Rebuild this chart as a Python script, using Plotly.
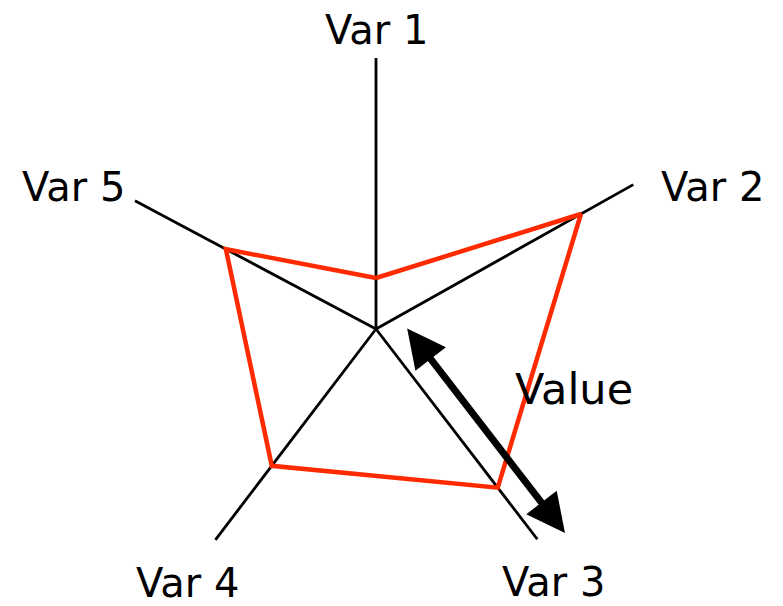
import numpy as np
import plotly.graph_objects as go

categories = ["Var 1", "Var 2", "Var 3", "Var 4", "Var 5"]
axis_angles = [90.0, 29.3, -52.5, -127.3, 152.0]   # degrees, counter-clockwise from east
axis_lengths = [271, 295, 265, 265, 273]
values = [51, 235, 200, 172, 170]

ang = np.deg2rad(axis_angles)

# axis spokes
sx, sy = [], []
for a, L in zip(ang, axis_lengths):
    sx += [0, L * np.cos(a), None]
    sy += [0, L * np.sin(a), None]

# value polygon
px = [v * np.cos(a) for v, a in zip(values, ang)]
py = [v * np.sin(a) for v, a in zip(values, ang)]
px.append(px[0]); py.append(py[0])

fig = go.Figure()
fig.add_trace(go.Scatter(x=sx, y=sy, mode="lines",
                         line=dict(color="black", width=2.8),
                         hoverinfo="skip", showlegend=False))
fig.add_trace(go.Scatter(x=px, y=py, mode="lines",
                         line=dict(color="#ff2a00", width=4.5),
                         text=categories + [categories[0]],
                         showlegend=False))

label_pos = [(0, 299), (336, 142), (177, -253), (-189, -254), (-303, 142)]
font = dict(family="DejaVu Sans, Verdana, sans-serif", size=40, color="black")
for name, (lx, ly) in zip(categories, label_pos):
    fig.add_annotation(x=lx, y=ly, text=name, showarrow=False, font=font,
                       xanchor="center", yanchor="middle")

# double-headed "Value" arrow parallel to the Var 3 spoke
fig.add_annotation(x=189, y=-204, ax=30, ay=2, axref="x", ayref="y",
                   xref="x", yref="y", text="", showarrow=True,
                   arrowside="end+start", arrowhead=2, arrowsize=1.1,
                   arrowwidth=7, arrowcolor="black")
fig.add_annotation(x=198, y=-60, text="Value", showarrow=False,
                   font=dict(family="DejaVu Sans, Verdana, sans-serif", size=43, color="black"),
                   xanchor="center", yanchor="middle")

fig.update_layout(
    width=783, height=606,
    margin=dict(l=0, r=0, t=0, b=0),
    paper_bgcolor="white", plot_bgcolor="white",
    xaxis=dict(range=[-376, 407], visible=False, fixedrange=True),
    yaxis=dict(range=[-277, 329], visible=False, fixedrange=True),
)

fig.write_html("out.html", config={"displayModeBar": False},
               post_script="document.body.style.margin='0';document.body.style.overflow='hidden';")
